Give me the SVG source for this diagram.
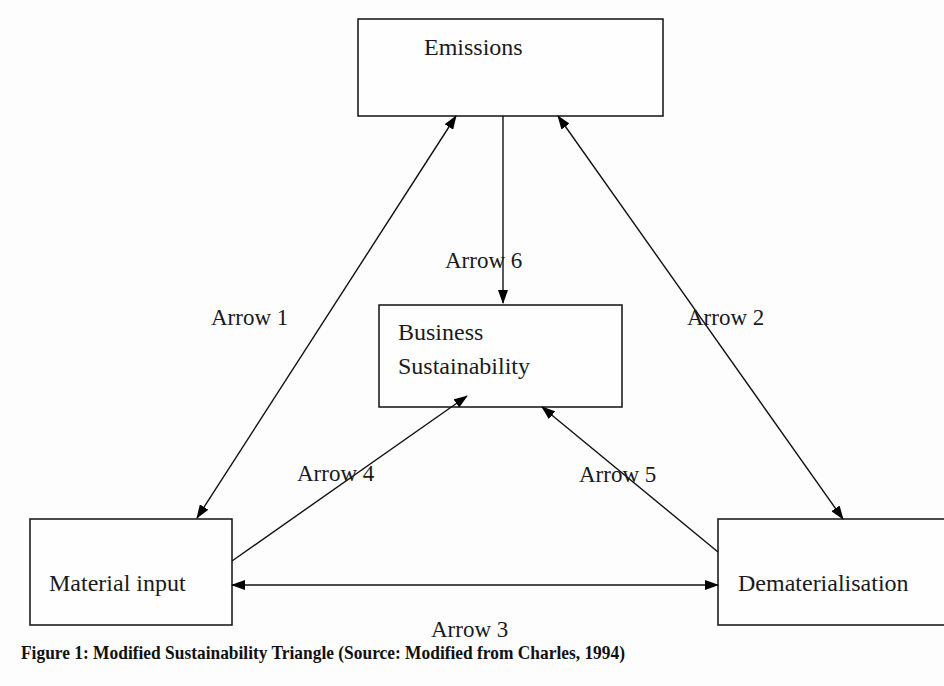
<svg xmlns="http://www.w3.org/2000/svg" width="944" height="686" viewBox="0 0 944 686">
<defs>
<style>
.box{fill:#fefefe;stroke:#111;stroke-width:1.5}
.t{font-family:"Liberation Serif","Times New Roman",serif;font-size:24px;fill:#1a1a1a}
.lbl{font-family:"Liberation Serif","Times New Roman",serif;font-size:23px;fill:#1a1a1a}
.cap{font-family:"Liberation Serif","Times New Roman",serif;font-size:19px;font-weight:bold;fill:#111}
.c{fill:none;stroke:#111;stroke-width:1.4}
</style>
<marker id="ah" markerWidth="14" markerHeight="10" refX="13" refY="5" orient="auto-start-reverse" markerUnits="userSpaceOnUse">
<path d="M0,0 L14,5 L0,10 Z" fill="#000"/>
</marker>
</defs>
<rect x="0" y="0" width="944" height="686" fill="#fdfdfd"/>
<g id="emissions">
<rect class="box" x="358" y="19" width="305" height="97"/>
<text class="t" x="424" y="55">Emissions</text>
</g>
<g id="business">
<rect class="box" x="379" y="305" width="243" height="102"/>
<text class="t" x="398" y="340">Business</text>
<text class="t" x="398" y="374">Sustainability</text>
</g>
<g id="material">
<rect class="box" x="30" y="519" width="202" height="106"/>
<text class="t" x="49" y="591">Material input</text>
</g>
<g id="demat">
<rect class="box" x="718" y="519" width="240" height="106"/>
<text class="t" x="738" y="591">Dematerialisation</text>
</g>
<g id="connectors">
<line id="arrow1" class="c" x1="456" y1="116" x2="197" y2="518" marker-start="url(#ah)" marker-end="url(#ah)"/>
<line id="arrow2" class="c" x1="558" y1="116" x2="843" y2="519" marker-start="url(#ah)" marker-end="url(#ah)"/>
<line id="arrow6" class="c" x1="503" y1="116" x2="503" y2="303" marker-end="url(#ah)"/>
<line id="arrow4" class="c" x1="232" y1="561" x2="467" y2="396" marker-end="url(#ah)"/>
<line id="arrow5" class="c" x1="718" y1="552" x2="542" y2="407" marker-end="url(#ah)"/>
<line id="arrow3" class="c" x1="232" y1="585" x2="718" y2="585" marker-start="url(#ah)" marker-end="url(#ah)"/>
</g>
<g id="labels">
<text class="lbl" x="211" y="325">Arrow 1</text>
<text class="lbl" x="687" y="325">Arrow 2</text>
<text class="lbl" x="431" y="637">Arrow 3</text>
<text class="lbl" x="297" y="481">Arrow 4</text>
<text class="lbl" x="579" y="482">Arrow 5</text>
<text class="lbl" x="445" y="268">Arrow 6</text>
</g>
<text class="cap" x="21" y="659" textLength="604" lengthAdjust="spacingAndGlyphs">Figure 1: Modified Sustainability Triangle (Source: Modified from Charles, 1994)</text>
</svg>
